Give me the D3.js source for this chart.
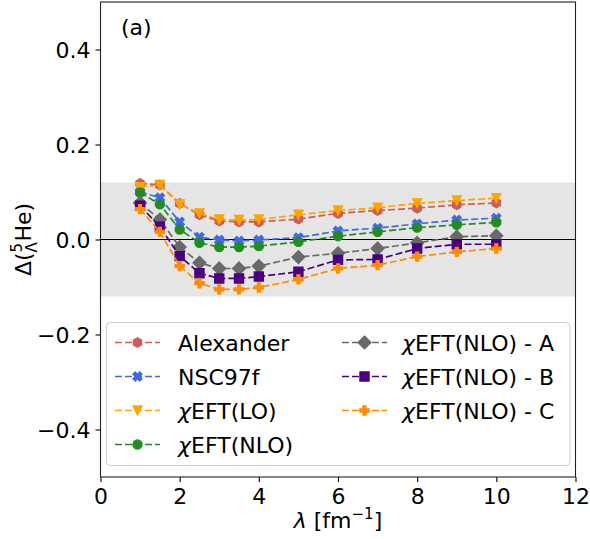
<!DOCTYPE html>
<html><head><meta charset="utf-8">
<script src="https://cdn.jsdelivr.net/npm/d3@7"></script>
<style>
body{margin:0;background:#fff}
text{font-family:"DejaVu Sans","Liberation Sans",sans-serif;fill:#000}
</style>
</head><body>
<svg id="chart" width="590" height="539"></svg>
<script>
// cutoff values lambda [fm^-1]
const lambdas = [1, 1.5, 2, 2.5, 3, 3.5, 4, 5, 6, 7, 8, 9, 10];

// Delta(5_Lambda He) for each interaction
const alexander = [0.118, 0.115, 0.076, 0.052, 0.039, 0.037, 0.037, 0.043, 0.055, 0.061, 0.066, 0.073, 0.077];
const nsc97f    = [0.100, 0.088, 0.037, 0.005, -0.001, -0.003, -0.001, 0.004, 0.018, 0.024, 0.033, 0.041, 0.045];
const eftLO     = [0.110, 0.115, 0.074, 0.055, 0.042, 0.041, 0.042, 0.052, 0.061, 0.067, 0.076, 0.082, 0.087];
const eftNLO    = [0.099, 0.074, 0.021, -0.007, -0.016, -0.016, -0.014, -0.005, 0.007, 0.016, 0.025, 0.031, 0.036];
const eftNLO_A  = [0.077, 0.042, -0.016, -0.049, -0.061, -0.061, -0.056, -0.037, -0.029, -0.019, -0.007, 0.006, 0.008];
const eftNLO_B  = [0.071, 0.027, -0.035, -0.071, -0.082, -0.082, -0.078, -0.068, -0.043, -0.042, -0.019, -0.010, -0.010];
const eftNLO_C  = [0.064, 0.016, -0.056, -0.092, -0.105, -0.105, -0.101, -0.084, -0.061, -0.054, -0.036, -0.026, -0.019];

const seriesNames = ["Alexander", "NSC97f", "χEFT(LO)", "χEFT(NLO)", "χEFT(NLO) - A", "χEFT(NLO) - B", "χEFT(NLO) - C"];
const seriesValues = [alexander, nsc97f, eftLO, eftNLO, eftNLO_A, eftNLO_B, eftNLO_C];
const seriesColors = ["#cd5c5c", "#4169e1", "#ffa500", "#228b22", "#696969", "#4b0082", "#ff8c00"];
const seriesMarkers = ["hexagon", "xfilled", "triangleDown", "circle", "diamond", "square", "plusFilled"];

const xTicks = [0, 2, 4, 6, 8, 10, 12];
const yTicks = [-0.4, -0.2, 0.0, 0.2, 0.4];
const xDomain = [0, 12];
const yDomain = [-0.5, 0.5];
const bandLimit = 0.12;

const svg = d3.select("#chart");
const plot = {left: 100.5, right: 575.5, top: 2, bottom: 477};

const x = d3.scaleLinear().domain(xDomain).range([plot.left, plot.right]);
const y = d3.scaleLinear().domain(yDomain).range([plot.bottom, plot.top]);

// marker outlines, centered on (0,0), s = nominal marker size in px
function markerPath(type, s) {
  const h = s / 2;
  const poly = pts => "M" + pts.map(p => p[0].toFixed(2) + "," + p[1].toFixed(2)).join("L") + "Z";
  switch (type) {
    case "circle":
      return `M${h},0A${h},${h} 0 1,1 ${-h},0A${h},${h} 0 1,1 ${h},0Z`;
    case "square":
      return poly([[-h, -h], [h, -h], [h, h], [-h, h]]);
    case "diamond": {
      const d = h * Math.SQRT2;
      return poly([[0, -d], [d, 0], [0, d], [-d, 0]]);
    }
    case "triangleDown":
      return poly([[-h, -h], [h, -h], [0, h]]);
    case "hexagon": {
      const pts = d3.range(6).map(i => {
        const a = -Math.PI / 2 + i * Math.PI / 3;
        return [h * 1.05 * Math.cos(a), h * 1.05 * Math.sin(a)];
      });
      return poly(pts);
    }
    case "xfilled": {
      const base = [[0, 1], [1, 2], [2, 1], [1, 0], [2, -1], [1, -2], [0, -1], [-1, -2], [-2, -1], [-1, 0], [-2, 1], [-1, 2]];
      return poly(base.map(p => [p[0] * h / 2, p[1] * h / 2]));
    }
    case "plusFilled": {
      const base = [[-1, -3], [-1, -1], [-3, -1], [-3, 1], [-1, 1], [-1, 3], [1, 3], [1, 1], [3, 1], [3, -1], [1, -1], [1, -3]];
      return poly(base.map(p => [p[0] * h / 3, p[1] * h / 3]));
    }
  }
}

const markerSize = 9.2;
const dash = "7,3";
const lineWidth = 1.7;

// shaded band and zero line
svg.append("rect")
  .attr("x", x(xDomain[0])).attr("width", x(xDomain[1]) - x(xDomain[0]))
  .attr("y", y(bandLimit)).attr("height", y(-bandLimit) - y(bandLimit))
  .attr("fill", "#e5e5e5");

svg.append("line")
  .attr("x1", x(xDomain[0])).attr("x2", x(xDomain[1]))
  .attr("y1", y(0)).attr("y2", y(0))
  .attr("stroke", "#000").attr("stroke-width", 1.1);

// series
const line = d3.line().x(d => x(d[0])).y(d => y(d[1]));
seriesValues.forEach((vals, i) => {
  const pts = lambdas.map((l, j) => [l, vals[j]]);
  const g = svg.append("g");
  g.append("path").attr("d", line(pts))
    .attr("fill", "none").attr("stroke", seriesColors[i])
    .attr("stroke-width", lineWidth).attr("stroke-dasharray", dash);
  g.selectAll("path.m").data(pts).join("path").attr("class", "m")
    .attr("transform", d => `translate(${x(d[0])},${y(d[1])})`)
    .attr("d", markerPath(seriesMarkers[i], markerSize))
    .attr("fill", seriesColors[i]).attr("stroke", seriesColors[i]).attr("stroke-width", 1.2);
});

// axes
const fmtY = d => (d < 0 ? "\u2212" : "") + Math.abs(d).toFixed(1);
const xAxis = svg.append("g").attr("transform", `translate(0,${plot.bottom})`)
  .call(d3.axisBottom(x).tickValues(xTicks).tickFormat(d3.format("d")).tickSize(5).tickPadding(5));
const yAxis = svg.append("g").attr("transform", `translate(${plot.left},0)`)
  .call(d3.axisLeft(y).tickValues(yTicks).tickFormat(fmtY).tickSize(5).tickPadding(5));
[xAxis, yAxis].forEach(a => {
  a.select(".domain").remove();
  a.selectAll("line").attr("stroke", "#000").attr("stroke-width", 1.1);
  a.selectAll("text").attr("font-size", 22).attr("font-family", "DejaVu Sans").attr("fill", "#000");
});
xAxis.selectAll("text").attr("dy", "0.78em");
yAxis.selectAll("text").attr("dy", "0.36em");

// frame
svg.append("rect")
  .attr("x", plot.left).attr("y", plot.top)
  .attr("width", plot.right - plot.left).attr("height", plot.bottom - plot.top)
  .attr("fill", "none").attr("stroke", "#222").attr("stroke-width", 1.1);

// panel label
svg.append("text").attr("x", 121).attr("y", 35).attr("font-size", 22).text("(a)");

// axis titles
const xl = svg.append("text").attr("x", (plot.left + plot.right) / 2).attr("y", 528)
  .attr("text-anchor", "middle").attr("font-size", 22);
xl.append("tspan").attr("font-style", "italic").text("λ");
xl.append("tspan").text(" [fm");
xl.append("tspan").attr("font-size", 15).attr("dy", -9).text("\u22121");
xl.append("tspan").attr("dy", 9).text("]");

const yl = svg.append("text")
  .attr("transform", `translate(31,${(plot.top + plot.bottom) / 2}) rotate(-90)`)
  .attr("text-anchor", "middle").attr("font-size", 22);
yl.append("tspan").text("Δ(");
yl.append("tspan").attr("font-size", 15).attr("dy", -9).text("5");
yl.append("tspan").attr("font-size", 15).attr("dx", -9.5).attr("dy", 15).text("Λ");
yl.append("tspan").attr("dy", -6).attr("dx", 0.5).text("He)");

// legend
const legend = svg.append("g");
legend.append("rect")
  .attr("x", 106.5).attr("y", 322.5).attr("width", 463.5).attr("height", 143)
  .attr("rx", 4).attr("fill", "#fff").attr("fill-opacity", 0.85)
  .attr("stroke", "#cccccc").attr("stroke-width", 1);

const legendCols = [{lineX: 115, textX: 178}, {lineX: 342, textX: 402}];
const rowY = [342.5, 376.5, 410.5, 444.5];
seriesNames.forEach((name, i) => {
  const col = legendCols[i < 4 ? 0 : 1];
  const ry = rowY[i < 4 ? i : i - 4];
  const g = legend.append("g");
  g.append("line").attr("x1", col.lineX).attr("x2", col.lineX + 45)
    .attr("y1", ry).attr("y2", ry)
    .attr("stroke", seriesColors[i]).attr("stroke-width", lineWidth).attr("stroke-dasharray", dash);
  g.append("path").attr("transform", `translate(${col.lineX + 22.5},${ry})`)
    .attr("d", markerPath(seriesMarkers[i], markerSize))
    .attr("fill", seriesColors[i]).attr("stroke", seriesColors[i]).attr("stroke-width", 1.2);
  const t = g.append("text").attr("x", col.textX).attr("y", ry + 8).attr("font-size", 22);
  if (name.startsWith("χ")) {
    t.append("tspan").attr("font-style", "italic").text("χ");
    t.append("tspan").text(name.slice(1));
  } else {
    t.text(name);
  }
});
</script>
</body></html>
